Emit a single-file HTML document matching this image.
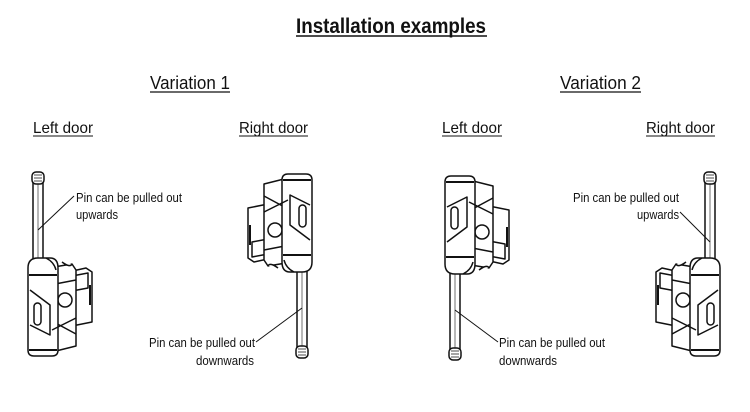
<!DOCTYPE html>
<html><head><meta charset="utf-8"><style>
body{margin:0;background:#fff}
svg{display:block}
text{font-family:"Liberation Sans Narrow","Liberation Sans",sans-serif;fill:#111}
</style></head><body>
<svg width="750" height="412" viewBox="0 0 750 412" xmlns="http://www.w3.org/2000/svg">
<defs>
<g id="h" fill="#fff" stroke="#111" stroke-width="1.5" stroke-linejoin="round">
  <rect x="33" y="180" width="10" height="84"/>
  <line x1="38" y1="184" x2="38" y2="260" stroke-width="0.6"/>
  <rect x="32" y="172" width="12" height="12" rx="4"/>
  <path d="M34 175h8M34 178h8M34 181h8" stroke-width="0.8"/>
  <path d="M68 272 L86 268 L92 272 L92 322 L72 326 Z"/>
  <path d="M72 276 L88 273 L88 288 L72 291 Z"/>
  <path d="M90 285 v20" stroke-width="2"/>
  <path d="M48 268 L72 264 L76 270 L76 346 L52 352 Z"/>
  <path d="M50 285 L76 280 M50 320 L76 334"/>
  <circle cx="65" cy="300" r="7"/>
  <path d="M28 268 Q28 258 38 258 L50 258 Q58 258 58 268 L58 350 Q58 356 52 356 L34 356 Q28 356 28 350 Z"/>
  <path d="M46 258 Q54 262 56 270 M62 262 Q70 268 72 264"/>
  <path d="M29 275 H57 M29 350 H57" stroke-width="2"/>
  <path d="M30 290 L50 305 L50 335 L30 325" fill="none"/>
  <rect x="34" y="303" width="7" height="22" rx="3.5"/>
  <path d="M52 330 L76 318"/>
</g>
</defs>

<text x="391" y="33" font-size="21" font-weight="bold" text-anchor="middle" textLength="190" lengthAdjust="spacingAndGlyphs">Installation examples</text>
<line x1="296" y1="36" x2="487" y2="36" stroke="#111" stroke-width="1.4"/>

<text x="150" y="89" font-size="18" textLength="80" lengthAdjust="spacingAndGlyphs">Variation 1</text>
<line x1="150" y1="92" x2="230" y2="92" stroke="#111" stroke-width="1.2"/>
<text x="560" y="89" font-size="18" textLength="81" lengthAdjust="spacingAndGlyphs">Variation 2</text>
<line x1="560" y1="92" x2="641" y2="92" stroke="#111" stroke-width="1.2"/>

<text x="33" y="133" font-size="16" textLength="60" lengthAdjust="spacingAndGlyphs">Left door</text>
<line x1="33" y1="136" x2="93" y2="136" stroke="#111"/>
<text x="239" y="133" font-size="16" textLength="69" lengthAdjust="spacingAndGlyphs">Right door</text>
<line x1="239" y1="136" x2="308" y2="136" stroke="#111"/>
<text x="442" y="133" font-size="16" textLength="60" lengthAdjust="spacingAndGlyphs">Left door</text>
<line x1="442" y1="136" x2="502" y2="136" stroke="#111"/>
<text x="646" y="133" font-size="16" textLength="69" lengthAdjust="spacingAndGlyphs">Right door</text>
<line x1="646" y1="136" x2="715" y2="136" stroke="#111"/>

<use href="#h"/>
<use href="#h" transform="translate(340,530) scale(-1,-1)"/>
<use href="#h" transform="translate(417,532) scale(1,-1)"/>
<use href="#h" transform="translate(748,0) scale(-1,1)"/>

<g stroke="#111" stroke-width="1">
<line x1="74" y1="196" x2="38" y2="230"/>
<line x1="256" y1="342" x2="302" y2="308"/>
<line x1="498" y1="342" x2="455" y2="310"/>
<line x1="680" y1="212" x2="710" y2="242"/>
</g>
<g font-size="13">
<text x="76" y="202" textLength="106" lengthAdjust="spacingAndGlyphs">Pin can be pulled out</text>
<text x="76" y="219" textLength="42" lengthAdjust="spacingAndGlyphs">upwards</text>
<text x="149" y="347" textLength="106" lengthAdjust="spacingAndGlyphs">Pin can be pulled out</text>
<text x="196" y="365" textLength="58" lengthAdjust="spacingAndGlyphs">downwards</text>
<text x="499" y="347" textLength="106" lengthAdjust="spacingAndGlyphs">Pin can be pulled out</text>
<text x="499" y="365" textLength="58" lengthAdjust="spacingAndGlyphs">downwards</text>
<text x="573" y="202" textLength="106" lengthAdjust="spacingAndGlyphs">Pin can be pulled out</text>
<text x="637" y="219" textLength="42" lengthAdjust="spacingAndGlyphs">upwards</text>
</g>
</svg>
</body></html>
